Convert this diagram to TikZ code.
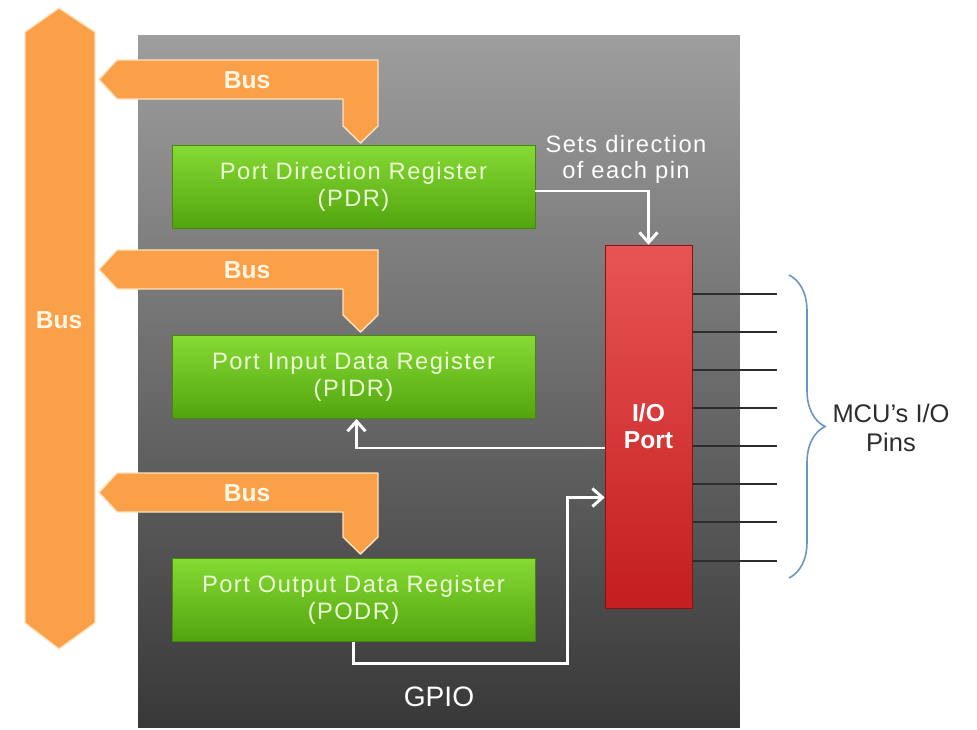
\documentclass[tikz,border=0pt]{standalone}
\usepackage{fontspec}
\setmainfont{Liberation Sans}
\newfontfamily\widefont[LetterSpace=6]{Liberation Sans}
\usetikzlibrary{arrows.meta,positioning,calc,decorations.pathreplacing}

\definecolor{busorange}{RGB}{250,160,72}
\definecolor{busedge}{RGB}{255,226,190}
\definecolor{bustext}{RGB}{255,246,228}
\definecolor{regtop}{RGB}{134,218,52}
\definecolor{regbot}{RGB}{82,164,14}
\definecolor{regedge}{RGB}{70,135,12}
\definecolor{regtext}{RGB}{236,255,214}
\definecolor{iotop}{RGB}{232,84,84}
\definecolor{iobot}{RGB}{196,30,30}
\definecolor{ioedge}{RGB}{140,18,18}
\definecolor{boxtop}{RGB}{158,158,158}
\definecolor{boxbot}{RGB}{56,56,56}
\definecolor{bracecol}{RGB}{104,150,196}
\definecolor{pincol}{RGB}{45,45,45}

\begin{document}
\begin{tikzpicture}[
  x=0.02cm, y=-0.02cm,
  node distance=2.14cm,
  gpiobox/.style={rectangle, top color=boxtop, bottom color=boxbot, minimum width=12.04cm, minimum height=13.86cm, inner sep=0pt},
  reg/.style={rectangle, draw=regedge, top color=regtop, bottom color=regbot, minimum width=7.26cm, minimum height=1.66cm, align=center, text=regtext, font=\widefont\fontsize{13.5}{15.3}\selectfont},
  ioport/.style={rectangle, draw=ioedge, top color=iotop, bottom color=iobot, minimum width=1.74cm, minimum height=7.26cm, align=center, text=white, font=\bfseries\fontsize{14}{15.3}\selectfont},
  bus/.style={fill=busorange, draw=busedge, line width=0.8pt, line join=round},
  buslabel/.style={text=bustext, font=\bfseries\fontsize{14}{16}\selectfont},
  wire/.style={draw=white, line width=1.7pt, -{Straight Barb[length=2mm, width=3.6mm]}},
  pin/.style={draw=pincol, line width=1.1pt},
  note/.style={align=center, font=\widefont\fontsize{13.5}{14.7}\selectfont}
]
  \useasboundingbox (0,0) rectangle (977,730);

  % GPIO block
  \node[gpiobox] (gpio) at (439,381.5) {};
  \node[note, text=white, font=\fontsize{16}{18}\selectfont] (gpiolabel) at ($(gpio.south)+(0,-31)$) {GPIO};

  % main bus
  \draw[bus] (59,8) -- (95,32) -- (95,623) -- (59,649) -- (25,623) -- (25,32) -- cycle;
  \node[buslabel] (busmain) at (59,320) {Bus};

  % bus branches
  \foreach \t/\tip [count=\i] in {60/143, 250/332, 473/554} {
    \draw[bus] (99,\t+19.5) -- (117,\t) -- (378,\t) -- (378,\tip-17) -- (360.5,\tip)
      -- (343,\tip-17) -- (343,\t+39) -- (117,\t+39) -- cycle;
    \node[buslabel] (bus\i) at (247,\t+20) {Bus};
  }

  % registers
  \node[reg] (pdr) at (353.5,186.5) {Port Direction Register\\(PDR)};
  \node[reg, below=of pdr] (pidr) {Port Input Data Register\\(PIDR)};
  \node[reg, below=2.78cm of pidr] (podr) {Port Output Data Register\\(PODR)};

  % pins
  \foreach \y in {294,332,370,408,446,484,522,561}
    \draw[pin] (692,\y) -- (777,\y);

  \node[ioport] (io) at (648.5,426.5) {I/O\\Port};

  % data paths
  \draw[wire] ($(pdr.east)+(0,4.5)$) -| (io.north);
  \node[note, text=white] (dirnote) at (626,159) {Sets direction\\of each pin};
  \draw[wire] ($(io.west)+(0,21.5)$) -| ($(pidr.south)+(3,0)$);
  \coordinate (podrin) at ($(io.west)+(0,71)$);
  \draw[wire] (podr.south) -- ++(0,22) -| ($(podrin)+(-37,0)$) -- (podrin);

  % pin brace
  \draw[draw=bracecol, line width=0.9pt, decorate, decoration={brace, amplitude=0.72cm}]
    (789,275) -- (789,578);
  \node[note, text=pincol, font=\fontsize{14.5}{16.5}\selectfont] (pinsnote) at (891,428) {MCU's I/O\\Pins};
\end{tikzpicture}
\end{document}
